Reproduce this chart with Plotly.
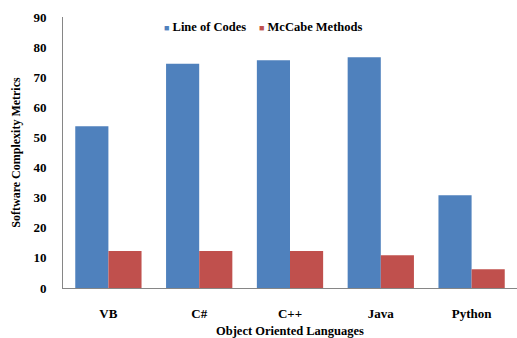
import plotly.graph_objects as go

languages = ["VB", "C#", "C++", "Java", "Python"]
line_of_codes = [53.7, 74.5, 75.6, 76.6, 30.8]
mccabe_methods = [12.3, 12.3, 12.3, 10.9, 6.2]
y_ticks = [0, 10, 20, 30, 40, 50, 60, 70, 80, 90]

series_names = ["Line of Codes", "McCabe Methods"]
series_colors = ["#4F81BD", "#C0504D"]

font_family = "Liberation Serif"
bold_font = dict(family=font_family, size=13, color="black", weight="bold")

fig = go.Figure()
fig.add_trace(go.Bar(x=languages, y=line_of_codes, name=series_names[0],
                     marker=dict(color=series_colors[0], line=dict(width=0)),
                     showlegend=False))
fig.add_trace(go.Bar(x=languages, y=mccabe_methods, name=series_names[1],
                     marker=dict(color=series_colors[1], line=dict(width=0)),
                     showlegend=False))

# compact key above the bars: small coloured square followed by the series name
key_x = [0.218, 0.427]
for name, color, kx in zip(series_names, series_colors, key_x):
    fig.add_annotation(
        xref="paper", yref="paper", x=kx, y=0.963,
        xanchor="left", yanchor="middle", showarrow=False,
        text=f"<span style='color:{color};font-size:9px'>■</span> {name}",
        font=dict(family=font_family, size=12.5, color="black", weight="bold"),
    )

fig.update_layout(
    width=517, height=338,
    margin=dict(l=63, r=0, t=17, b=50),
    paper_bgcolor="white", plot_bgcolor="white",
    barmode="group", bargap=0.27, bargroupgap=0,
    font=dict(family=font_family, size=12, color="black"),
    xaxis=dict(
        showline=True, linecolor="#868686", linewidth=1,
        ticks="", ticklabelstandoff=13,
        tickfont=bold_font,
        title=dict(text="Object Oriented Languages", standoff=6,
                   font=dict(family=font_family, size=12.5, color="black", weight="bold")),
    ),
    yaxis=dict(
        range=[0, 90], tickvals=y_ticks, showgrid=False, zeroline=False,
        showline=True, linecolor="#868686", linewidth=1,
        ticks="", ticklabelstandoff=13,
        tickfont=bold_font,
        title=dict(text="Software Complexity Metrics", standoff=10,
                   font=dict(family=font_family, size=12, color="black", weight="bold")),
    ),
)

fig.write_html("out.html")
